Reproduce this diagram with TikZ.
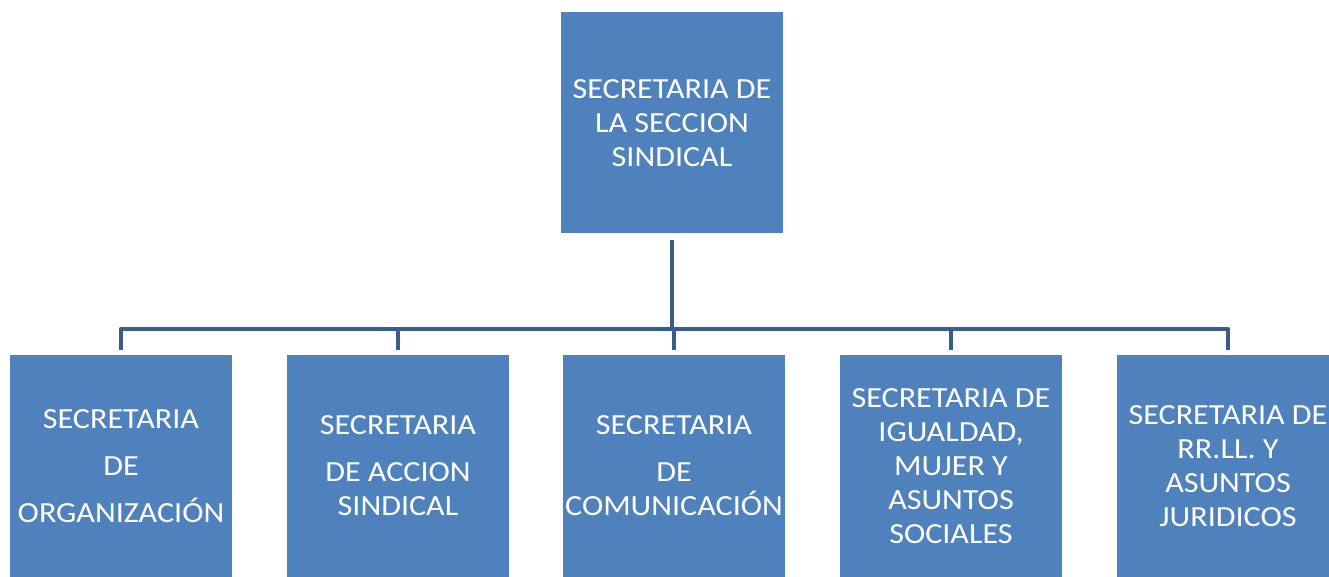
\documentclass[tikz,border=0pt]{standalone}
\usepackage{fontspec}
\setmainfont[FakeStretch=1.1]{Carlito}
\definecolor{boxblue}{RGB}{79,129,189}
\definecolor{linkblue}{RGB}{56,93,138}
\begin{document}
\begin{tikzpicture}[x=0.5pt,y=-0.5pt,
  orgbox/.style={fill=boxblue,draw=none,minimum width=111pt,minimum height=110.5pt,
    inner sep=0pt,align=center,text=white,font=\fontsize{14.6pt}{17pt}\selectfont},
  conn/.style={draw=linkblue,line width=2.3pt,line join=round}]
\clip (0,0) rectangle (1329,577);
\fill[white] (0,0) rectangle (1329,577);
\node[orgbox] (top) at (672,123) {SECRETARIA DE\\LA SECCION\\SINDICAL};
\node[orgbox] (c1) at (121,466) {SECRETARIA\\[6.5pt]DE\\[6.5pt]ORGANIZACIÓN};
\node[orgbox] (c2) at (398,466) {SECRETARIA\\[6.5pt]DE ACCION\\SINDICAL};
\node[orgbox] (c3) at (674,466) {SECRETARIA\\[6.5pt]DE\\COMUNICACIÓN};
\node[orgbox] (c4) at (951,466) {SECRETARIA DE\\IGUALDAD,\\MUJER Y\\ASUNTOS\\SOCIALES};
\node[orgbox] (c5) at (1228,466) {SECRETARIA DE\\RR.LL. Y\\ASUNTOS\\JURIDICOS};
\coordinate (bus) at (674,329);
\draw[conn,shorten <=3pt] (top.south) -- (top.south |- bus);
\draw[conn,shorten <=2.5pt,shorten >=2.5pt] (c1.north) -- (c1.north |- bus) -- (c5.north |- bus) -- (c5.north);
\foreach \c in {c2,c3,c4}
  \draw[conn,shorten >=2.5pt] (\c.north |- bus) -- (\c.north);
\end{tikzpicture}
\end{document}
